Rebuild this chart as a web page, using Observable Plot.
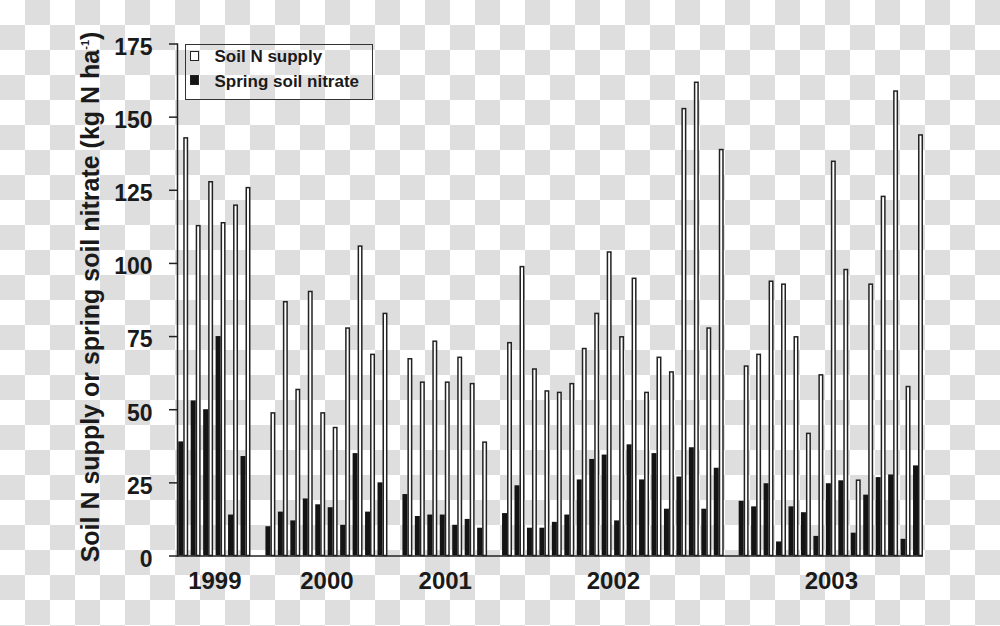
<!DOCTYPE html>
<html>
<head>
<meta charset="utf-8">
<script src="https://cdn.jsdelivr.net/npm/d3@7"></script>
<script src="https://cdn.jsdelivr.net/npm/@observablehq/plot@0.6"></script>
<style>
  html, body { margin: 0; padding: 0; }
  #wrap {
    position: relative; width: 1000px; height: 626px; overflow: hidden;
    background-color: #fff;
    background-image: conic-gradient(#dedede 0 25%, #fff 0 50%, #dedede 0 75%, #fff 0);
    background-size: 50px 50px;
    font-family: "Liberation Sans", Arial, sans-serif; font-weight: bold; color: #1a1a1a;
  }
  #wrap svg { position: absolute; left: 0; top: 0; }
  #ytitle {
    position: absolute; left: 90px; top: 297px;
    transform: translate(-50%, -50%) rotate(-90deg);
    white-space: nowrap; font-size: 25px; line-height: 25px;
  }
  #ytitle sup { font-size: 11px; vertical-align: 10px; line-height: 0; }
  #legend {
    position: absolute; left: 185px; top: 44px; width: 186px; height: 54px;
    border: 1.5px solid #333;
  }
  .lg-sym { position: absolute; left: 4px; width: 7px; height: 8px; border: 1.3px solid #222; }
  .lg-txt { position: absolute; left: 28.5px; font-size: 17px; line-height: 17px; white-space: nowrap; }
</style>
</head>
<body>
<div id="wrap">
  <div id="ytitle">Soil N supply or spring soil nitrate (kg N ha<sup>-1</sup>)</div>
  <div id="legend"></div>
</div>
<script>
// ---- data ----
const years = [1999, 2000, 2001, 2002, 2003];

const supply1999  = [143, 113, 128, 114, 120, 126];
const nitrate1999 = [39, 53, 50, 75, 14, 34];

const supply2000  = [49, 87, 57, 90.5, 49, 44, 78, 106, 69, 83];
const nitrate2000 = [10, 15, 12, 19.5, 17.5, 16.5, 10.5, 35, 15, 25];

const supply2001  = [67.5, 59.5, 73.5, 59.5, 68, 59, 39];
const nitrate2001 = [21, 13.5, 14, 14, 10.5, 12.5, 9.5];

const supply2002  = [73, 99, 64, 56.5, 56, 59, 71, 83, 104, 75, 95, 56, 68, 63, 153, 162, 78, 139];
const nitrate2002 = [14.5, 24, 9.5, 9.5, 11.5, 14, 26, 33, 34.5, 12, 38, 26, 35, 16, 27, 37, 16, 30];

const supply2003  = [65, 69, 94, 93, 75, 42, 62, 135, 98, 26, 93, 123, 159, 58, 144];
const nitrate2003 = [18.7, 16.8, 24.7, 4.8, 16.8, 14.8, 6.7, 24.7, 25.7, 7.8, 20.8, 26.8, 27.7, 5.7, 30.8];

const seriesNames = ["Soil N supply", "Spring soil nitrate"];
const yTicks = [0, 25, 50, 75, 100, 125, 150, 175];

// ---- build table ----
const supplyByYear = [supply1999, supply2000, supply2001, supply2002, supply2003];
const nitrateByYear = [nitrate1999, nitrate2000, nitrate2001, nitrate2002, nitrate2003];

const rows = [];
const groups = [];
let slot = 0;
years.forEach((yr, g) => {
  const s = supplyByYear[g], n = nitrateByYear[g];
  const start = slot;
  s.forEach((v, i) => { rows.push({year: yr, slot, supply: v, nitrate: n[i]}); slot++; });
  groups.push({year: yr, center: start + (s.length - 0.2) / 2});
  slot++; // empty slot between years
});
const totalSlots = slot - 1;

// ---- legend ----
const legend = document.getElementById("legend");
const fills = ["#fff", "#141414"];
seriesNames.forEach((name, i) => {
  const sym = document.createElement("div");
  sym.className = "lg-sym";
  sym.style.top = (6 + i * 24.3) + "px";
  sym.style.background = fills[i];
  legend.appendChild(sym);
  const t = document.createElement("div");
  t.className = "lg-txt";
  t.style.top = (3.4 + i * 25) + "px";
  t.textContent = name;
  legend.appendChild(t);
});

// ---- chart ----
const chart = Plot.plot({
  width: 1000, height: 626,
  marginLeft: 177, marginRight: 77, marginTop: 43.5, marginBottom: 70.5,
  style: {background: "transparent", fontFamily: "'Liberation Sans', Arial, sans-serif", overflow: "visible"},
  x: {type: "linear", domain: [-0.1, totalSlots - 0.2], axis: null},
  y: {domain: [0, 175], axis: null, label: null},
  marks: [
    Plot.rectY(rows, {x1: d => d.slot + 0.4, x2: d => d.slot + 0.8, y1: 0, y2: "supply",
      fill: "white", stroke: "#222", strokeWidth: 1.5, insetLeft: 0.75, insetRight: 0.75, insetTop: 0.75}),
    Plot.rectY(rows, {x1: d => d.slot, x2: d => d.slot + 0.4, y1: 0, y2: "nitrate",
      fill: "#141414"}),
    Plot.ruleY([0], {stroke: "#222", strokeWidth: 1.5}),
    Plot.frame({anchor: "left", stroke: "#222", strokeWidth: 1.5}),
    Plot.axisY(yTicks, {tickSize: 8, stroke: "#222", strokeWidth: 1.5, tickFormat: () => "", label: null}),
    Plot.axisY(yTicks, {tickSize: 0, tickPadding: 25, fontSize: 23, fontWeight: "bold",
      fill: "#1a1a1a", dy: 3.5, label: null}),
    Plot.text(groups, {x: "center", frameAnchor: "bottom", lineAnchor: "top", dy: 16,
      text: d => String(d.year), fontSize: 24, fontWeight: "bold", fill: "#1a1a1a"})
  ]
});
document.getElementById("wrap").insertBefore(chart, document.getElementById("ytitle"));
</script>
</body>
</html>
